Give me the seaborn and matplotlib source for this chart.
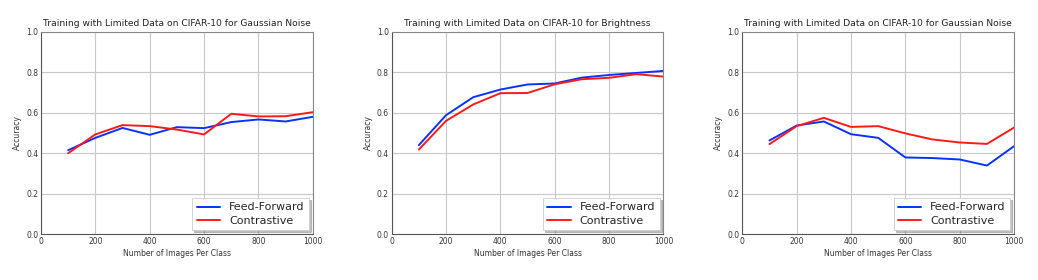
import pandas as pd
import matplotlib
matplotlib.use("Agg")
import matplotlib.pyplot as plt
import seaborn as sns

# --- Data ---
images_per_class = [100, 200, 300, 400, 500, 600, 700, 800, 900, 1000]

titles = [
    "Training with Limited Data on CIFAR-10 for Gaussian Noise",
    "Training with Limited Data on CIFAR-10 for Brightness",
    "Training with Limited Data on CIFAR-10 for Gaussian Noise",
]

ff_gauss_a = [0.415, 0.476, 0.525, 0.491, 0.529, 0.524, 0.554, 0.567, 0.557, 0.580]
con_gauss_a = [0.400, 0.493, 0.539, 0.534, 0.517, 0.493, 0.595, 0.582, 0.583, 0.603]

ff_bright = [0.440, 0.588, 0.677, 0.715, 0.740, 0.745, 0.774, 0.787, 0.797, 0.807]
con_bright = [0.418, 0.560, 0.641, 0.697, 0.698, 0.741, 0.766, 0.773, 0.791, 0.779]

ff_gauss_b = [0.463, 0.537, 0.557, 0.494, 0.476, 0.379, 0.376, 0.369, 0.339, 0.435]
con_gauss_b = [0.445, 0.534, 0.575, 0.530, 0.534, 0.498, 0.468, 0.453, 0.446, 0.527]

series_names = ["Feed-Forward", "Contrastive"]
palette = {"Feed-Forward": "#0a32ff", "Contrastive": "#ff1a1a"}

panels = [
    (ff_gauss_a, con_gauss_a),
    (ff_bright, con_bright),
    (ff_gauss_b, con_gauss_b),
]


def make_frame(ff, con):
    rows = []
    for name, vals in zip(series_names, (ff, con)):
        for x, y in zip(images_per_class, vals):
            rows.append({"Images": x, "Accuracy": y, "Model": name})
    return pd.DataFrame(rows)


# --- Plot ---
sns.set_theme(style="whitegrid")
plt.rcParams["font.family"] = ["DejaVu Sans"]

fig, axes = plt.subplots(1, 3, figsize=(10.38, 2.8), dpi=100)
fig.subplots_adjust(left=0.0395, right=0.977, top=0.886, bottom=0.164, wspace=0.29)

for ax, title, (ff, con) in zip(axes, titles, panels):
    df = make_frame(ff, con)
    sns.lineplot(data=df, x="Images", y="Accuracy", hue="Model",
                 palette=palette, linewidth=1.4, ax=ax)
    ax.set_xlim(0, 1000)
    ax.set_ylim(0, 1.0)
    ax.set_xticks(range(0, 1001, 200))
    ax.set_yticks([0.0, 0.2, 0.4, 0.6, 0.8, 1.0])
    ax.set_yticklabels([f"{v:.1f}" for v in ax.get_yticks()])
    ax.set_title(title, fontsize=6.6, pad=4, color="#222222")
    ax.set_xlabel("Number of Images Per Class", fontsize=5.5, labelpad=2, color="#333333")
    ax.set_ylabel("Accuracy", fontsize=5.5, labelpad=3, color="#333333")
    ax.tick_params(labelsize=5.5, pad=2, length=0, labelcolor="#333333")
    ax.grid(True, color="#c8c8c8", linewidth=0.8)
    for side, spine in ax.spines.items():
        spine.set_color("#555555" if side in ("left", "bottom") else "#888888")
        spine.set_linewidth(0.8)
    leg = ax.legend(loc="lower right", fontsize=8, frameon=True, fancybox=False,
                    shadow={"ox": 1.5, "oy": -1.5, "alpha": 0.35},
                    borderpad=0.4, handlelength=2.1,
                    borderaxespad=0.35, labelspacing=0.3)
    leg.get_frame().set_edgecolor("#cccccc")
    leg.get_frame().set_linewidth(0.6)
    for line in leg.get_lines():
        line.set_linewidth(1.4)

fig.savefig("out.png", dpi=100)
